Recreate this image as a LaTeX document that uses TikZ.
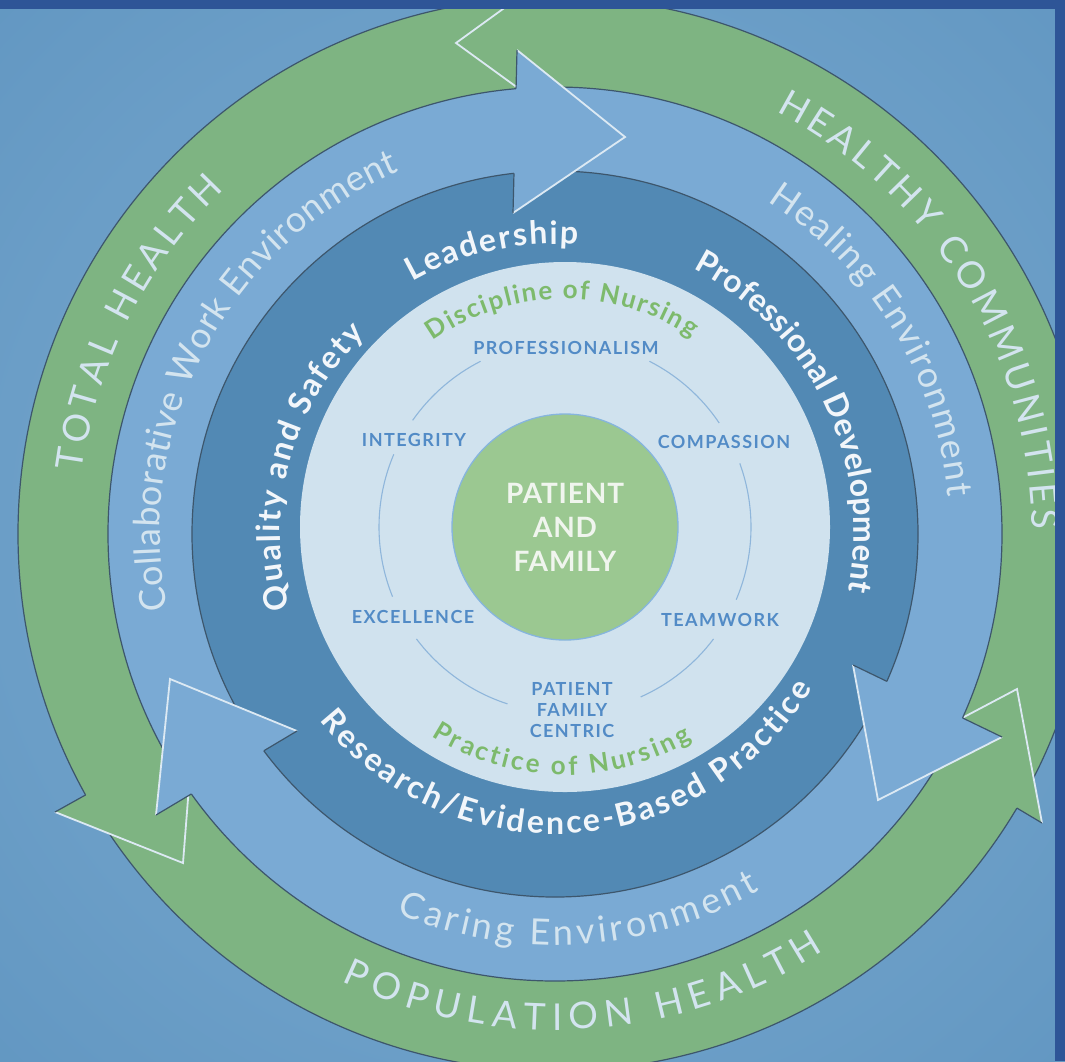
\documentclass[tikz,border=0pt]{standalone}
\usepackage{fontspec}
\setmainfont{Lato}
\usetikzlibrary{decorations.text,calc}

\definecolor{bgcentre}{HTML}{7FAED3}
\definecolor{bgnear}{HTML}{5C92BE}
\definecolor{bgmiddle}{HTML}{4E88B8}
\definecolor{bgfar}{HTML}{4180B3}
\definecolor{bgcorner}{HTML}{3777AC}
\definecolor{framebar}{HTML}{2E5597}
\definecolor{ringgreen}{HTML}{7EB482}
\definecolor{ringlight}{HTML}{7AAAD4}
\definecolor{ringdark}{HTML}{5289B4}
\definecolor{corefill}{HTML}{D0E2EE}
\definecolor{hubfill}{HTML}{9BC891}
\definecolor{hubline}{HTML}{86B5DD}
\definecolor{rim}{HTML}{3D566C}
\definecolor{glint}{HTML}{DCE9F3}
\definecolor{paletext}{HTML}{D3E4EF}
\definecolor{brighttext}{HTML}{F2F6FA}
\definecolor{valueblue}{HTML}{528BC6}
\definecolor{valueline}{HTML}{8FB6DB}
\definecolor{nursegreen}{HTML}{7DBA6C}
\definecolor{hubtext}{HTML}{F0F5EE}

\pgfdeclareradialshading{backdrop}{\pgfpoint{0bp}{0bp}}{color(0bp)=(bgcentre); color(44bp)=(bgnear); color(50bp)=(bgmiddle); color(58bp)=(bgfar); color(71bp)=(bgcorner)}

\newcommand\outerringfont{\fontsize{37}{40}\selectfont\color{paletext}}
\newcommand\middleringfont{\fontsize{36}{40}\selectfont\color{paletext}}
\newcommand\innerringfont{\fontsize{32}{36}\selectfont\bfseries\color{brighttext}}
\newcommand\nursingfont{\fontsize{26}{30}\selectfont\bfseries\color{nursegreen}}

\tikzset{
  arclabel/.style={decorate, decoration={text along path, text align=fit to path, text={#1}}},
  rimline/.style={draw=rim, line width=1.2pt},
  glintline/.style={draw=glint, line width=1.8pt, line join=miter},
  value/.style={text=valueblue, font=\fontsize{18}{21}\selectfont\bfseries\addfontfeature{LetterSpace=8}, inner sep=0pt, align=center},
  valuearc/.style={draw=valueline, line width=1.1pt},
  hublabel/.style={text=hubtext, font=\fontsize{28}{34}\selectfont\bfseries\addfontfeature{LetterSpace=3}, inner sep=0pt, align=center},
}

\begin{document}
\begin{tikzpicture}[x=1pt,y=1pt]
\useasboundingbox (0,0) rectangle (1065,-1061);
\coordinate (O1) at (555,-534);
\coordinate (O2) at (565,-527);

% backdrop
\shade[shading=backdrop] (0,0) rectangle (1065,-1061);

% ---- outer green ring (counter-clockwise arrows)
\filldraw[fill=ringgreen, rimline] (O1) circle[radius=537];

\coordinate (gTo) at (565,36);    \coordinate (gTt) at (456,-43);   \coordinate (gTi) at (562,-120);
\coordinate (gLo) at (55,-812);   \coordinate (gLt) at (183,-863); \coordinate (gLi) at (193,-735);
\coordinate (gRo) at (1042,-823); \coordinate (gRt) at (1017,-689); \coordinate (gRi) at (911,-745);

\foreach \h/\cut in {gT/0.212, gL/0.222, gR/0.192}{
  \fill[ringgreen] (\h o) -- (\h t) -- (\h i) -- cycle;
  \draw[glintline] (\h o) -- (\h t) -- (\h i);
  \draw[rimline] (\h o) -- ($(\h o)!\cut!(\h i)$);
}

% ---- middle light-blue ring and inner dark ring
\filldraw[fill=ringlight, rimline] (O1) circle[radius=447];
\filldraw[fill=ringdark, rimline] (O1) circle[radius=363];

% light-blue arrow heads (clockwise)
\coordinate (bTo) at (517,-50);   \coordinate (bTt) at (625,-137);  \coordinate (bTi) at (513,-213);
\coordinate (bRo) at (1002,-737); \coordinate (bRt) at (878,-800);  \coordinate (bRi) at (853,-665);
\coordinate (bLo) at (156,-815);  \coordinate (bLt) at (170,-679);  \coordinate (bLi) at (297,-731);

\foreach \h/\cuta/\cutb in {bT/0.237/0.757, bR/0.265/0.773, bL/0.251/0.765}{
  \fill[ringlight] (\h o) -- (\h t) -- (\h i) -- cycle;
  \draw[glintline] (\h o) -- (\h t) -- (\h i);
  \draw[rimline] (\h o) -- ($(\h o)!\cuta!(\h i)$);
  \draw[rimline] ($(\h o)!\cutb!(\h i)$) -- (\h i);
}

% ---- core disc
\fill[corefill] (O2) circle[radius=265];

% value arcs
\draw[valuearc] ($(O2)+(-23:186)$) arc[start angle=-23, end angle=20, radius=186];
\draw[valuearc] ($(O2)+(34:186)$)  arc[start angle=34,  end angle=63, radius=186];
\draw[valuearc] ($(O2)+(117:186)$) arc[start angle=117, end angle=145, radius=186];
\draw[valuearc] ($(O2)+(157:186)$) arc[start angle=157, end angle=202, radius=186];
\draw[valuearc] ($(O2)+(217:186)$) arc[start angle=217, end angle=252, radius=186];
\draw[valuearc] ($(O2)+(-66:186)$) arc[start angle=-66, end angle=-37, radius=186];

% values
\node[value] (vprof) at (566,-348) {PROFESSIONALISM};
\node[value] (vint)  at (414,-440) {INTEGRITY};
\node[value] (vcomp) at (724,-442) {COMPASSION};
\node[value] (vexc)  at (413,-617) {EXCELLENCE};
\node[value] (vteam) at (720,-620) {TEAMWORK};
\node[value] (vpfc)  at (572,-710) {PATIENT\\FAMILY\\CENTRIC};

% hub
\node[circle, minimum size=226pt, inner sep=0pt, fill=hubfill, draw=hubline, line width=1.3pt] (hub) at (O2) {};
\node[hublabel] (hubtext) at (O2) {PATIENT\\AND\\FAMILY};

% ---- curved labels
% outer ring
\path[arclabel={|\outerringfont|TOTAL HEALTH}] ($(O1)+(172.5:477)$) arc[start angle=172.5, end angle=133.8, radius=477];
\path[arclabel={|\outerringfont|HEALTHY COMMUNITIES}] ($(O1)+(62.4:477)$) arc[start angle=62.4, end angle=0.5, radius=477];
\path[arclabel={|\outerringfont|POPULATION HEALTH}] ($(O1)+(244.5:496)$) arc[start angle=244.5, end angle=302.8, radius=496];
% middle ring
\path[arclabel={|\middleringfont|Collaborative Work Environment}] ($(O1)+(191:395)$) arc[start angle=191, end angle=113.2, radius=395];
\path[arclabel={|\middleringfont|Healing Environment}] ($(O1)+(57.4:395)$) arc[start angle=57.4, end angle=5.4, radius=395];
\path[arclabel={|\middleringfont|Caring Environment}] ($(O1)+(247.3:411)$) arc[start angle=247.3, end angle=299.8, radius=411];
% inner ring
\path[arclabel={|\innerringfont|Leadership}] ($(O1)+(119.5:290)$) arc[start angle=119.5, end angle=85.5, radius=290];
\path[arclabel={|\innerringfont|Professional Development}] ($(O1)+(62.5:299)$) arc[start angle=62.5, end angle=-11, radius=299];
\path[arclabel={|\innerringfont|Quality and Safety}] ($(O1)+(195.6:275)$) arc[start angle=195.6, end angle=133.6, radius=275];
\path[arclabel={|\innerringfont|Research/Evidence-Based Practice}] ($(O1)+(218.4:300)$) arc[start angle=218.4, end angle=329, radius=300];
% core
\path[arclabel={|\nursingfont|Discipline of Nursing}] ($(O2)+(125.4:228)$) arc[start angle=125.4, end angle=56.2, radius=228];
\path[arclabel={|\nursingfont|Practice of Nursing}] ($(O2)+(237.4:248)$) arc[start angle=237.4, end angle=300.8, radius=248];

% frame bars
\fill[framebar] (0,0) rectangle (1065,-9);
\fill[framebar] (1055,0) rectangle (1065,-1061);
\end{tikzpicture}
\end{document}
